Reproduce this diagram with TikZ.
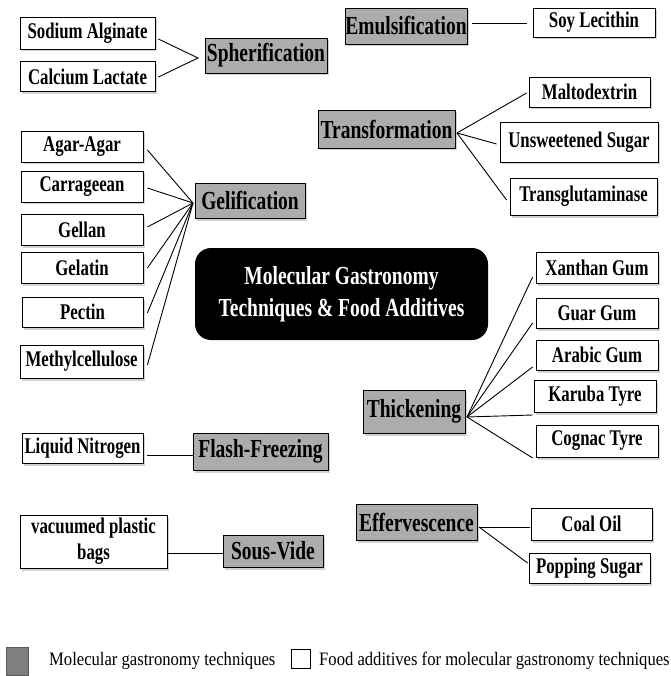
\documentclass[tikz,border=0pt]{standalone}
\usepackage{fontspec}
\newfontfamily\boxfont[FakeStretch=0.75]{Liberation Serif}
\newfontfamily\legfont[FakeStretch=0.875]{Liberation Serif}
\usetikzlibrary{shadows,calc}
\definecolor{techgray}{RGB}{172,172,172}
\definecolor{leggray}{RGB}{128,128,128}
\begin{document}
\begin{tikzpicture}[x=1pt,y=-1pt,
  base/.style={draw=black, line width=0.8pt, inner sep=0pt, align=center,
    drop shadow={shadow xshift=2pt, shadow yshift=-2.5pt, opacity=0.35}},
  food/.style={base, fill=white, font=\boxfont\bfseries\fontsize{22.4}{26}\selectfont},
  tech/.style={base, fill=techgray, font=\boxfont\bfseries\fontsize{26}{30}\selectfont},
  conn/.style={line width=0.9pt, black},
  legtext/.style={anchor=west, inner sep=0pt, font=\legfont\fontsize{19}{22}\selectfont}
]
\useasboundingbox (0,0) rectangle (670,676);
\fill[white] (0,0) rectangle (670,676);

% central title
\node[fill=black, rounded corners=16pt, minimum width=293pt, minimum height=92pt, inner sep=0pt,
  text=white, align=center, font=\boxfont\bfseries\fontsize{26}{32}\selectfont]
  (title) at (341.5,294) {Molecular Gastronomy\\Techniques \& Food Additives};

% Spherification
\node[food, minimum width=135pt, minimum height=32pt] (sod) at (87.5,33) {Sodium Alginate};
\node[food, minimum width=135pt, minimum height=30pt] (cal) at (87.5,76.5) {Calcium Lactate};
\node[tech, minimum width=122pt, minimum height=35pt] (spher) at (266,55.5) {Spherification};
\coordinate (spherJ) at (198,58);
\draw[conn] ($(sod.east)+(3,6)$) -- (spherJ) -- ($(cal.east)+(3,0.5)$);

% Gelification
\node[food, minimum width=122pt, minimum height=31pt] (agar) at (82,146.5) {Agar-Agar};
\node[food, minimum width=122pt, minimum height=31pt] (carr) at (82,186.5) {Carrageean};
\node[food, minimum width=122pt, minimum height=31pt] (gellan) at (82,229.5) {Gellan};
\node[food, minimum width=122pt, minimum height=31pt] (gelatin) at (82,267.5) {Gelatin};
\node[food, minimum width=121pt, minimum height=30pt] (pectin) at (82.5,312) {Pectin};
\node[food, minimum width=123pt, minimum height=33pt] (methyl) at (81.5,361.5) {Methylcellulose};
\node[tech, minimum width=110pt, minimum height=35pt] (gelif) at (250,200.5) {Gelification};
\coordinate (gelJ) at (193,203);
\foreach \n/\dy in {agar/3.5,carr/1.5,gellan/-2.5,gelatin/0.5,pectin/1,methyl/3.5}
  \draw[conn] ($(\n.east)+(4,\dy)$) -- (gelJ);

% Emulsification
\node[tech, minimum width=122pt, minimum height=36pt] (emuls) at (406,26) {Emulsification};
\node[food, minimum width=122pt, minimum height=29pt] (soy) at (594,22.5) {Soy Lecithin};
\draw[conn] ($(emuls.east)+(5,-3)$) -- ($(soy.west)+(-6,0.5)$);

% Transformation
\node[tech, minimum width=137pt, minimum height=38pt] (transf) at (386.5,129) {Transformation};
\node[food, minimum width=121pt, minimum height=30pt] (malto) at (589.5,92) {Maltodextrin};
\node[food, minimum width=158pt, minimum height=40pt] (unsw) at (579,142) {Unsweetened Sugar};
\node[food, minimum width=147pt, minimum height=37pt] (transg) at (583.5,196.5) {Transglutaminase};
\coordinate (transJ) at (457,133);
\draw[conn] (transJ) -- ($(malto.west)+(-2,1)$);
\draw[conn] (transJ) -- ($(unsw.west)+(-3,2)$);
\draw[conn] (transJ) -- ($(transg.west)+(-3,3.5)$);

% Thickening
\node[tech, minimum width=102pt, minimum height=43pt] (thick) at (414,411.5) {Thickening};
\node[food, minimum width=122pt, minimum height=31pt] (xanthan) at (597,267.5) {Xanthan Gum};
\node[food, minimum width=122pt, minimum height=30pt] (guar) at (597,313) {Guar Gum};
\node[food, minimum width=122pt, minimum height=30pt] (arabic) at (597,355) {Arabic Gum};
\node[food, minimum width=122pt, minimum height=32pt] (karuba) at (595,396) {Karuba Tyre};
\node[food, minimum width=122pt, minimum height=32pt] (cognac) at (597,441) {Cognac Tyre};
\coordinate (thickJ) at (467,417);
\draw[conn] (thickJ) -- ($(xanthan.west)+(-3,9.5)$);
\draw[conn] (thickJ) -- ($(guar.west)+(-3,10)$);
\draw[conn] (thickJ) -- ($(arabic.west)+(-3,12)$);
\draw[conn] (thickJ) -- ($(karuba.west)+(-1,19)$);
\draw[conn] (thickJ) -- ($(cognac.west)+(-3,17)$);

% Flash-Freezing
\node[food, minimum width=121pt, minimum height=30pt] (liquid) at (82.5,448) {Liquid Nitrogen};
\node[tech, minimum width=135pt, minimum height=37pt] (flash) at (260.5,451.5) {Flash-Freezing};
\draw[conn] ($(liquid.east)+(4,7)$) -- ($(flash.west)+(0,3.5)$);

% Sous-Vide
\node[food, minimum width=147pt, minimum height=53pt] (vacuum) at (93.5,541.5) {vacuumed plastic\\bags};
\node[tech, minimum width=100pt, minimum height=32pt] (sous) at (273,551) {Sous-Vide};
\draw[conn] ($(vacuum.east)+(0,11.5)$) -- ($(sous.west)+(0,2)$);

% Effervescence
\node[tech, minimum width=121pt, minimum height=36pt] (efferv) at (416.5,522) {Effervescence};
\node[food, minimum width=121pt, minimum height=32pt] (coal) at (591.5,524) {Coal Oil};
\node[food, minimum width=121pt, minimum height=30pt] (popping) at (589.5,568) {Popping Sugar};
\coordinate (efferJ) at (479,527);
\draw[conn] (efferJ) -- ($(coal.west)+(-1,3)$);
\draw[conn] (efferJ) -- ($(popping.west)+(-1,-5)$);

% Legend
\node[draw=leggray!70!black, fill=leggray, minimum width=22pt, minimum height=28pt, inner sep=0pt] (legT) at (17,661) {};
\node[legtext] (legTt) at (49,661) {Molecular gastronomy techniques};
\node[draw=black, line width=0.6pt, fill=white, minimum width=19pt, minimum height=19pt, inner sep=0pt] (legF) at (300.5,659) {};
\node[legtext] (legFt) at (319,661) {Food additives for molecular gastronomy techniques};
\end{tikzpicture}
\end{document}
